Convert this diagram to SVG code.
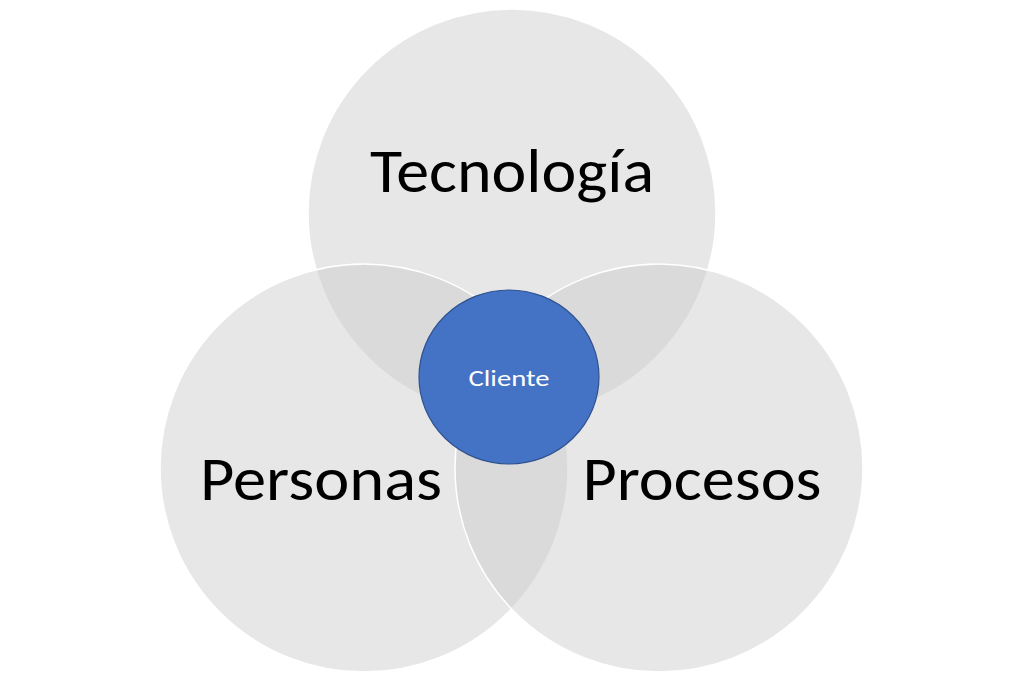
<svg xmlns="http://www.w3.org/2000/svg" width="1024" height="682" viewBox="0 0 1024 682">
<style>
.set{fill:#cbcaca;fill-opacity:0.46;stroke:#ffffff;stroke-width:1.5}
.big{font-family:Carlito,Calibri,Lato,"Open Sans",sans-serif;font-size:62px;fill:#000000;text-anchor:middle}
.small{font-family:Carlito,Calibri,Lato,"Open Sans",sans-serif;font-size:22px;fill:#ffffff;text-anchor:middle}
</style>
<rect width="1024" height="682" fill="#ffffff"/>
<g id="tecnologia">
<circle class="set" cx="512" cy="213" r="204"/>
<text class="big" x="512" y="192" textLength="284" lengthAdjust="spacingAndGlyphs">Tecnología</text>
</g>
<g id="personas">
<circle class="set" cx="364" cy="468" r="204"/>
<text class="big" x="321" y="500" textLength="242" lengthAdjust="spacingAndGlyphs">Personas</text>
</g>
<g id="procesos">
<circle class="set" cx="659" cy="468" r="204"/>
<text class="big" x="702" y="500" textLength="239" lengthAdjust="spacingAndGlyphs">Procesos</text>
</g>
<g id="cliente">
<ellipse cx="509" cy="377" rx="90" ry="87" fill="#4472c4" stroke="#2f528f" stroke-width="1.2"/>
<text class="small" x="509" y="386" textLength="81" lengthAdjust="spacingAndGlyphs">Cliente</text>
</g>
<g id="connectors"/>
</svg>
